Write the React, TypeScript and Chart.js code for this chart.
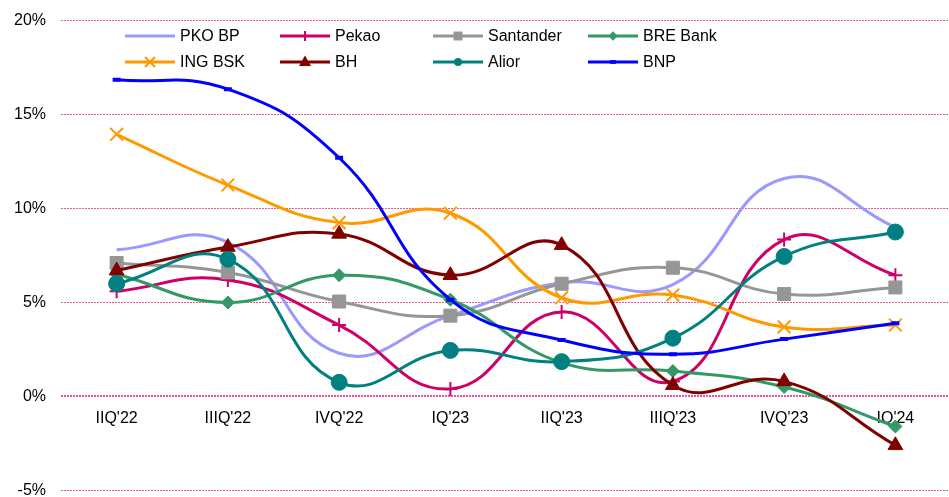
import React, { useEffect, useRef } from "react";
import { Chart, registerables } from "chart.js";

Chart.register(...registerables);

const categories = ["IIQ'22", "IIIQ'22", "IVQ'22", "IQ'23", "IIQ'23", "IIIQ'23", "IVQ'23", "IQ'24"];
const yTicks = [-5, 0, 5, 10, 15, 20];

const pkoBp = [7.8, 8.2, 2.3, 4.3, 6.05, 5.95, 11.6, 9.0];
const pekao = [5.6, 6.2, 3.8, 0.4, 4.5, 0.8, 8.35, 6.45];
const santander = [7.1, 6.6, 5.05, 4.3, 6.0, 6.85, 5.45, 5.8];
const breBank = [6.5, 5.0, 6.45, 5.15, 1.8, 1.35, 0.5, -1.6];
const ingBsk = [13.95, 11.25, 9.25, 9.75, 5.25, 5.4, 3.7, 3.8];
const bh = [6.7, 7.95, 8.65, 6.45, 8.05, 0.6, 0.8, -2.6];
const alior = [6.0, 7.3, 0.75, 2.45, 1.85, 3.1, 7.45, 8.75];
const bnp = [16.85, 16.35, 12.7, 5.15, 3.0, 2.25, 3.05, 3.9];

const seriesNames = ["PKO BP", "Pekao", "Santander", "BRE Bank", "ING BSK", "BH", "Alior", "BNP"];
const seriesValues = [pkoBp, pekao, santander, breBank, ingBsk, bh, alior, bnp];
const seriesColors = ["#9999FF", "#CC0066", "#969696", "#339966", "#FF9900", "#800000", "#008080", "#0000FF"];
const seriesStyles: any[] = [false, "cross", "rect", "rectRot", "crossRot", "triangle", "circle", "line"];
const seriesRadius = [0, 7, 9.2, 6.5, 9, 8.5, 8, 4];

const FONT = "'Liberation Sans', Arial, sans-serif";
const SHIFT = 4;

function drawMarker(ctx: CanvasRenderingContext2D, style: any, x: number, y: number, s: number, color: string) {
  ctx.save();
  ctx.fillStyle = color;
  ctx.strokeStyle = color;
  ctx.lineWidth = 2;
  ctx.beginPath();
  if (style === "rect") {
    ctx.rect(x - s, y - s, 2 * s, 2 * s);
    ctx.fill();
  } else if (style === "rectRot") {
    ctx.moveTo(x, y - s * 1.2);
    ctx.lineTo(x + s * 1.2, y);
    ctx.lineTo(x, y + s * 1.2);
    ctx.lineTo(x - s * 1.2, y);
    ctx.closePath();
    ctx.fill();
  } else if (style === "triangle") {
    ctx.moveTo(x, y - s * 1.3);
    ctx.lineTo(x + s * 1.2, y + s * 0.8);
    ctx.lineTo(x - s * 1.2, y + s * 0.8);
    ctx.closePath();
    ctx.fill();
  } else if (style === "circle") {
    ctx.arc(x, y, s, 0, Math.PI * 2);
    ctx.fill();
  } else if (style === "cross") {
    ctx.moveTo(x, y - s);
    ctx.lineTo(x, y + s);
    ctx.stroke();
  } else if (style === "crossRot") {
    ctx.moveTo(x - s, y - s);
    ctx.lineTo(x + s, y + s);
    ctx.moveTo(x + s, y - s);
    ctx.lineTo(x - s, y + s);
    ctx.stroke();
  } else if (style === "line") {
    ctx.rect(x - s, y - s * 0.6, 2 * s, s * 1.2);
    ctx.fill();
  }
  ctx.restore();
}

const legendPlugin = {
  id: "customLegend",
  afterDraw(chart: any) {
    const ctx: CanvasRenderingContext2D = chart.ctx;
    const colX = [125, 280, 433, 588];
    const rowY = [36 + SHIFT, 62 + SHIFT];
    const legendSizes = [0, 5, 4.5, 4, 5, 5, 4, 3];
    ctx.save();
    ctx.font = `16px ${FONT}`;
    ctx.textBaseline = "middle";
    ctx.textAlign = "left";
    seriesNames.forEach((name, i) => {
      const x = colX[i % 4];
      const y = rowY[Math.floor(i / 4)];
      ctx.strokeStyle = seriesColors[i];
      ctx.lineWidth = 3;
      ctx.beginPath();
      ctx.moveTo(x, y);
      ctx.lineTo(x + 50, y);
      ctx.stroke();
      if (seriesStyles[i]) drawMarker(ctx, seriesStyles[i], x + 25, y, legendSizes[i], seriesColors[i]);
      ctx.fillStyle = "#000000";
      ctx.fillText(name, x + 55, y + 1);
    });
    ctx.restore();
  },
};

export default function App() {
  const ref = useRef<HTMLCanvasElement | null>(null);
  useEffect(() => {
    document.body.style.margin = "0";
    const canvas = ref.current;
    if (!canvas) return;
    const chart = new Chart(canvas, {
      type: "line",
      data: {
        labels: categories,
        datasets: seriesNames.map((name, i) => ({
          label: name,
          data: seriesValues[i],
          borderColor: seriesColors[i],
          backgroundColor: seriesColors[i],
          borderWidth: 3,
          tension: 0.45,
          fill: false,
          pointStyle: seriesStyles[i],
          pointRadius: seriesRadius[i],
          pointBorderWidth: seriesStyles[i] === "cross" || seriesStyles[i] === "crossRot" ? 2 : seriesStyles[i] === "line" ? 4 : 1,
          pointBackgroundColor: seriesColors[i],
          pointBorderColor: seriesColors[i],
          order: 8 - i,
        })),
      },
      options: {
        responsive: false,
        animation: false,
        layout: { padding: { top: 16, bottom: -10, left: 0, right: 0 } },
        plugins: {
          legend: { display: false },
          tooltip: { enabled: false },
        },
        scales: {
          x: {
            type: "category",
            position: { y: 0 } as any,
            offset: true,
            afterFit: (s: any) => {
              s.height = 0;
            },
            grid: { display: false, drawTicks: false },
            border: { display: false },
            ticks: {
              color: "#000000",
              font: { family: FONT, size: 16 },
              padding: 13,
              maxRotation: 0,
              autoSkip: false,
            },
          },
          y: {
            min: -5,
            max: 20,
            afterFit: (s: any) => {
              s.width = 61;
            },
            afterBuildTicks: (s: any) => {
              s.ticks = yTicks.map((v) => ({ value: v }));
            },
            grid: {
              color: "#E4569C",
              lineWidth: (c: any) => (c.tick && c.tick.value === 0 ? 2 : 1),
              drawTicks: false,
            },
            border: { display: false, dash: [2, 1] },
            ticks: {
              color: "#000000",
              font: { family: FONT, size: 16 },
              padding: 15,
              callback: (v: any) => `${v}%`,
            },
          },
        },
      },
      plugins: [legendPlugin],
    });
    return () => chart.destroy();
  }, []);
  return (
    <div style={{ width: 949, height: 497, overflow: "hidden", background: "#ffffff", position: "relative" }}>
      <canvas
        ref={ref}
        width={962}
        height={519}
        style={{ display: "block", position: "absolute", left: 0, top: -SHIFT }}
      />
    </div>
  );
}
